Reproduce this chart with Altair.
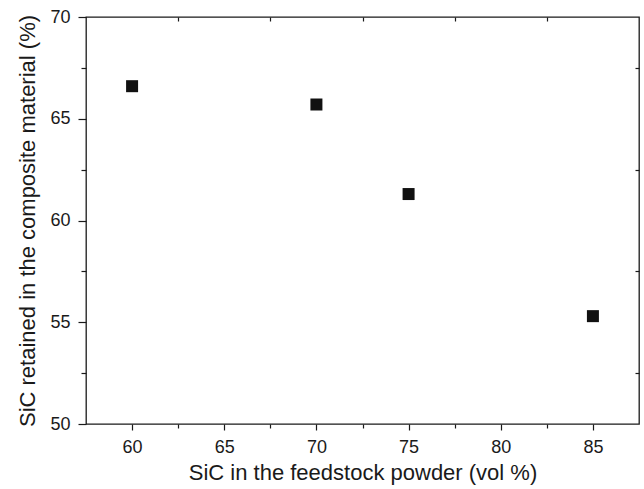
import altair as alt
import pandas as pd

feed_sic = [60, 70, 75, 85]
retained_sic = [66.6, 65.7, 61.3, 55.3]

x_major = [60, 65, 70, 75, 80, 85]
x_minor = [62.5, 67.5, 72.5, 77.5, 82.5]
y_major = [50, 55, 60, 65, 70]
y_minor = [52.5, 57.5, 62.5, 67.5]

df = pd.DataFrame({"feed": feed_sic, "retained": retained_sic})

FONT = "Liberation Sans"
INK = "#1a1a1a"

xs = alt.Scale(domain=[57.5, 87.5], nice=False, zero=False)
ys = alt.Scale(domain=[50, 70], nice=False, zero=False)

common_axis = dict(grid=False, domain=False, tickColor=INK, tickWidth=1.2,
                   labelFont=FONT, titleFont=FONT, labelColor=INK, titleColor=INK)

main = alt.Chart(df).mark_square(size=144, color="#111111", opacity=1).encode(
    x=alt.X("feed:Q", scale=xs,
            axis=alt.Axis(orient="bottom", values=x_major, tickSize=6, labelFontSize=18,
                          labelPadding=8, title="SiC in the feedstock powder (vol %)",
                          titleFontSize=22, titleFontWeight="normal", titlePadding=6,
                          **common_axis)),
    y=alt.Y("retained:Q", scale=ys,
            axis=alt.Axis(orient="left", values=y_major, tickSize=8, labelFontSize=18,
                          labelPadding=8, title="SiC retained in the composite material (%)",
                          titleFontSize=22, titleFontWeight="normal", titlePadding=10,
                          **common_axis)),
)

minor = alt.Chart(df).mark_point(opacity=0).encode(
    x=alt.X("feed:Q", scale=xs,
            axis=alt.Axis(orient="bottom", values=x_minor, tickSize=4, labels=False,
                          title=None, **common_axis)),
    y=alt.Y("retained:Q", scale=ys,
            axis=alt.Axis(orient="left", values=y_minor, tickSize=5, labels=False,
                          title=None, **common_axis)),
)

mirror = alt.Chart(df).mark_point(opacity=0).encode(
    x=alt.X("feed:Q", scale=xs,
            axis=alt.Axis(orient="top", values=x_minor, tickSize=4, offset=-4, labels=False,
                          title=None, **common_axis)),
    y=alt.Y("retained:Q", scale=ys,
            axis=alt.Axis(orient="right", values=y_minor, tickSize=4, offset=-4, labels=False,
                          title=None, **common_axis)),
)

chart = alt.layer(main, minor, mirror).resolve_axis(
    x="independent", y="independent"
).properties(
    width=553, height=407,
    autosize=alt.AutoSizeParams(type="none"),
    padding={"left": 86, "top": 17, "right": 5, "bottom": 65},
    background="white",
).configure_view(stroke=INK, strokeWidth=1.3)

chart.save("out.html", embed_options={"renderer": "svg", "actions": False})
